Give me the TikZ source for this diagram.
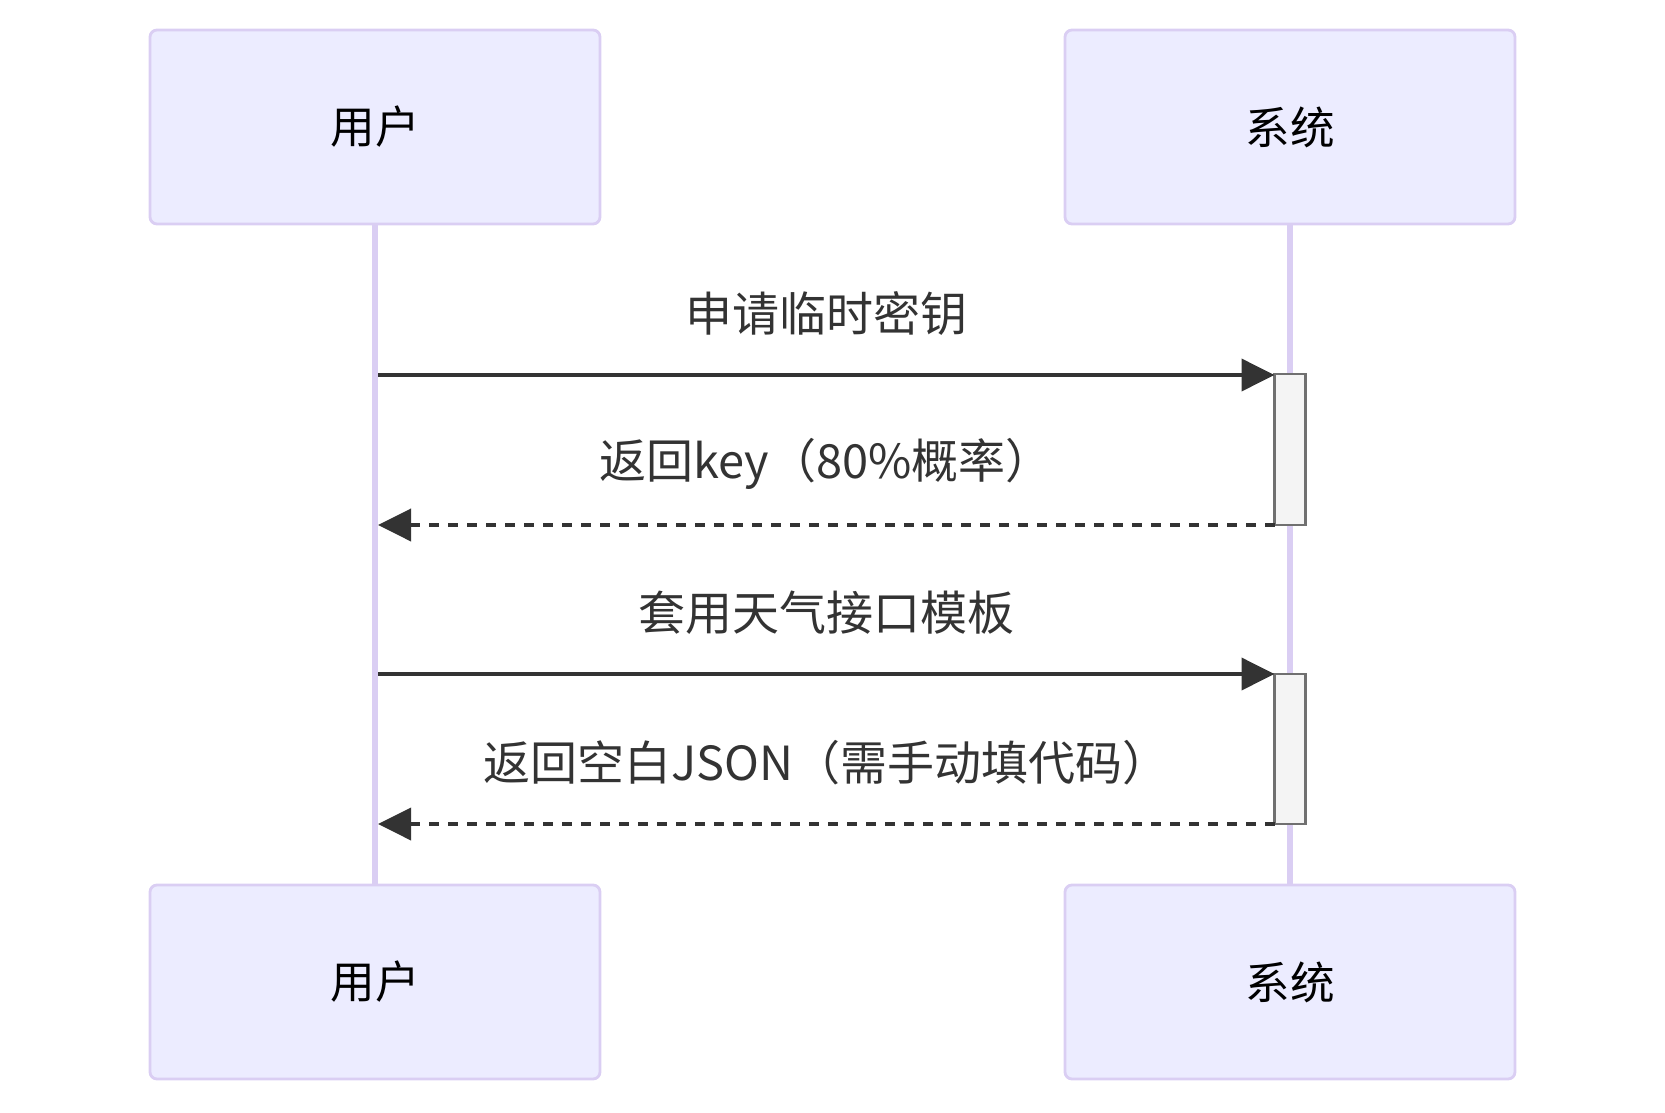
\documentclass[tikz,border=0pt]{standalone}
\usepackage{fontspec}
\setmainfont{Noto Sans CJK SC}
\usetikzlibrary{arrows.meta}
\definecolor{actfill}{HTML}{ECECFF}
\definecolor{actline}{HTML}{DACEF3}
\definecolor{msgcol}{HTML}{333333}
\definecolor{actvfill}{HTML}{F4F4F4}
\definecolor{actvline}{HTML}{707070}
\tikzset{
	actor/.style={draw=actline,fill=actfill,line width=1.4pt,rounded corners=3.5pt,
		minimum width=225pt,minimum height=97pt,font=\fontsize{22.3pt}{26pt}\selectfont,text=black},
	lifeline/.style={draw=actline,line width=3pt},
	actvbox/.style={draw=actvline,fill=actvfill,line width=1.4pt,minimum width=15.5pt,inner sep=0pt,outer sep=0pt},
	msg/.style={draw=msgcol,line width=1.9pt,-{Triangle[length=16.5pt,width=16pt]}},
	reply/.style={msg,dash pattern=on 4.75pt off 4.75pt},
	msglabel/.style={font=\fontsize{23.5pt}{28pt}\selectfont,text=msgcol,yshift=30.5pt}
}
\begin{document}
\begin{tikzpicture}[x=0.5pt,y=-0.5pt]
\useasboundingbox (0,0) rectangle (1665,1113);
% actors
\node[actor] (u1) at (375,127) {用户};
\node[actor] (s1) at (1290,127) {系统};
\node[actor] (u2) at (375,982) {用户};
\node[actor] (s2) at (1290,982) {系统};
\draw[lifeline] (u1) -- (u2);
\draw[lifeline] (s1) -- (s2);
% activations
\node[actvbox,minimum height=75.5pt] (a1) at (1290,449.5) {};
\node[actvbox,minimum height=75pt] (a2) at (1290,749) {};
% messages
\coordinate (m1) at (378,375);
\coordinate (r1) at (378,525);
\coordinate (m2) at (378,674);
\coordinate (r2) at (378,824);
\draw[msg] (m1) -- (m1 -| a1.west) node[midway,msglabel] {申请临时密钥};
\draw[reply] (r1 -| a1.west) -- (r1) node[midway,msglabel] {返回key（80\%概率）};
\draw[msg] (m2) -- (m2 -| a2.west) node[midway,msglabel] {套用天气接口模板};
\draw[reply] (r2 -| a2.west) -- (r2) node[midway,msglabel] {返回空白JSON（需手动填代码）};
\end{tikzpicture}
\end{document}
